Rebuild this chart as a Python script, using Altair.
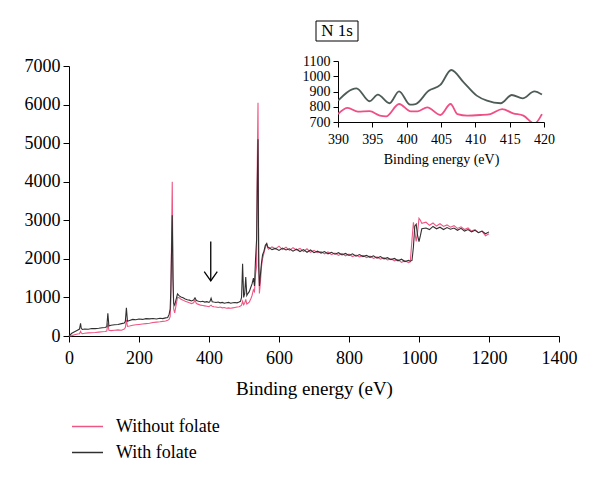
import altair as alt
import pandas as pd

# ---------------- main survey spectrum ----------------
energy = [
    0, 8, 16, 24, 30, 33, 35, 38, 45, 55, 65, 75, 85, 95, 103, 108, 111, 114, 120, 130,
    140, 150, 158, 161, 164, 167, 173, 182, 191, 200, 210, 220, 230, 240, 250, 260, 268, 276, 282,
    286, 289, 291, 293, 295, 297, 299, 302, 306, 310,
    315, 320, 326, 332, 338, 344, 350, 356, 360, 364, 370, 376, 382, 388, 394, 400, 403, 406, 409,
    414, 420, 426, 432, 438, 444, 450, 456, 462, 468, 474, 480, 486,
    490, 493, 496, 499, 502, 505, 508, 511, 515, 519, 523, 527, 530, 533, 536, 538, 540, 542, 544,
    547, 550, 553, 557, 561, 565, 568,
    570, 580, 590, 600, 610, 620, 630, 640, 650, 660, 670, 680, 690, 700, 710, 720, 730, 740,
    750, 760, 770, 780, 790, 800, 810, 820, 830, 840, 850, 860, 870, 880, 890, 900, 910, 920,
    930, 940, 950, 960, 970,
    975, 980, 984, 988, 992, 996, 1000, 1004, 1008,
    1020, 1030, 1040, 1050, 1060, 1070, 1080, 1090, 1100, 1110, 1120, 1130, 1140, 1150, 1160,
    1170, 1180, 1190, 1200,
]
with_folate = [
    0, 70, 110, 150, 180, 330, 200, 170, 180, 175, 195, 190, 200, 215, 220, 240, 590, 260, 280, 290,
    300, 320, 335, 380, 730, 380, 400, 430, 420, 440, 430, 450, 445, 455, 440, 460, 450, 470, 480,
    560, 700, 1200, 2200, 3130, 1500, 850, 800, 950, 1090,
    1040, 1010, 990, 960, 940, 930, 910, 930, 990, 920, 900, 890, 900, 880, 890, 870, 900, 980, 890,
    880, 870, 880, 860, 870, 850, 860, 870, 850, 860, 870, 860, 880,
    900, 1000, 1870, 1000, 1100, 1530, 1050, 1100, 1150, 1250, 1350, 1500, 1300, 2000, 2500, 4000, 5100, 1800, 1300,
    1600, 1900, 2100, 2200, 2350, 2400, 2300,
    2300, 2240, 2270, 2220, 2280, 2230, 2260, 2200, 2250, 2190, 2240, 2170, 2230, 2160, 2200, 2150, 2190, 2130,
    2170, 2120, 2160, 2100, 2140, 2090, 2130, 2070, 2110, 2060, 2090, 2040, 2080, 2020, 2060, 2000, 2030, 1980,
    2010, 1950, 1990, 1930, 1960,
    1940, 1960, 2300, 2850, 2900, 2600, 2450, 2600, 2780,
    2800, 2760, 2840, 2780, 2820, 2760, 2810, 2770, 2800, 2740, 2790, 2720, 2760, 2700, 2740,
    2680, 2720, 2650, 2700,
]
without_folate = [
    0, 10, 30, 50, 60, 120, 80, 60, 70, 80, 85, 90, 100, 110, 115, 130, 330, 150, 140, 150,
    160, 150, 180, 220, 420, 250, 260, 280, 290, 300, 310, 320, 330, 350, 360, 370, 380, 390, 410,
    430, 500, 900, 2500, 4000, 1800, 700, 600, 800, 1000,
    990, 950, 930, 900, 880, 860, 840, 860, 930, 840, 820, 800, 790, 780, 770, 760, 780, 800, 770,
    760, 750, 740, 750, 730, 740, 720, 730, 720, 730, 740, 750, 760,
    780, 800, 900, 810, 850, 950, 830, 850, 880, 950, 1050, 1200, 1150, 1600, 1800, 4500, 6050, 2200, 1100,
    1400, 1800, 2000, 2150, 2300, 2380, 2280,
    2250, 2310, 2260, 2330, 2240, 2300, 2220, 2290, 2230, 2270, 2190, 2260, 2170, 2220, 2160, 2190, 2130, 2180,
    2110, 2150, 2090, 2140, 2080, 2120, 2060, 2100, 2050, 2090, 2030, 2070, 2010, 2050, 1990, 2030, 1970, 2000,
    1950, 1980, 1910, 1950, 1900,
    1920, 2500, 2950, 2700, 2450, 2700, 3050, 3000, 2920,
    2950, 2870, 2930, 2850, 2910, 2840, 2880, 2820, 2860, 2790, 2830, 2760, 2800, 2720, 2760,
    2680, 2720, 2600, 2650,
]
series_names = ["Without folate", "With folate"]

x_ticks = [0, 200, 400, 600, 800, 1000, 1200, 1400]
y_ticks = [0, 1000, 2000, 3000, 4000, 5000, 6000, 7000]

# arrow annotation (data units)
arrow_x = [405]
arrow_top = [2450]
arrow_tip = [1430]

# ---------------- N 1s inset ----------------
inset_dark_e = [390, 392.7, 394.6, 395.8, 397.5, 398.9, 400.5, 401.3, 403.2, 404.9, 406.5,
                408.3, 410.2, 411.7, 413.7, 415.3, 416.9, 418.6, 419.7]
inset_dark_v = [840, 921, 836, 879, 823, 901, 814, 818, 905, 943, 1041,
                960, 873, 840, 823, 877, 855, 901, 880]
inset_pink_e = [390, 391.4, 392.9, 394.6, 396.1, 397.0, 398.9, 400.6, 401.6, 403.0, 404.9,
                406.4, 407.4, 408.8, 410.7, 412.2, 413.9, 415.5, 417.0, 418.6, 419.7]
inset_pink_v = [752, 792, 768, 771, 742, 737, 818, 770, 770, 796, 746,
                818, 752, 742, 746, 752, 785, 757, 742, 690, 752]
inset_x_ticks = [390, 395, 400, 405, 410, 415, 420]
inset_y_ticks = [700, 800, 900, 1000, 1100]
inset_label = ["N 1s"]

FONT = "Liberation Serif"
PINK = "#ee5683"
DARK = "#303030"
INSET_DARK = "#4e5c58"
INSET_PINK = "#ef4f84"

df = pd.DataFrame({
    "energy": energy * 2,
    "counts": without_folate + with_folate,
    "series": [series_names[0]] * len(energy) + [series_names[1]] * len(energy),
})

color_scale = alt.Scale(domain=series_names, range=[PINK, DARK])
x_scale = alt.Scale(domain=[0, 1400], nice=False)
y_scale = alt.Scale(domain=[0, 7000], nice=False)
x_axis = alt.Axis(values=x_ticks, format="d", labelOverlap=False, labelFlush=False,
                  title="Binding energy (eV)", labelFontSize=18, titleFontSize=19, tickSize=6,
                  labelPadding=7, titlePadding=12)
y_axis = alt.Axis(values=y_ticks, format="d", labelOverlap=False, labelFlush=False, title=None,
                  labelFontSize=18, tickSize=6, labelPadding=3)
x_enc = alt.X("energy:Q", scale=x_scale, axis=x_axis)
y_enc = alt.Y("counts:Q", scale=y_scale, axis=y_axis)
legend = alt.Legend(title=None, orient="none", legendX=2, legendY=349, symbolType="stroke",
                    symbolSize=961, symbolStrokeWidth=1.5, labelFont=FONT, labelFontSize=18,
                    labelColor="black", labelOffset=12, rowPadding=-1)
color_enc = alt.Color("series:N", scale=color_scale, legend=legend)

base = alt.Chart(df)
pink_line = base.transform_filter(alt.datum.series == series_names[0]).mark_line(
    strokeWidth=1.1).encode(x=x_enc, y=y_enc, color=color_enc)
dark_line = base.transform_filter(alt.datum.series == series_names[1]).mark_line(
    strokeWidth=1.1).encode(x=x_enc, y=y_enc, color=color_enc)

arrow_df = pd.DataFrame({"energy": arrow_x, "counts": arrow_tip, "top": arrow_top})
arrow_shaft = alt.Chart(arrow_df).mark_rule(color="black", strokeWidth=1.3).encode(
    x=x_enc, y=y_enc, y2="top:Q")
arrow_head = alt.Chart(arrow_df).mark_point(
    shape="M-1,-1.4L0,0L1,-1.4", filled=False, color="black", strokeWidth=1.3, size=170, opacity=1
).encode(x=x_enc, y=y_enc)

main = alt.layer(pink_line, dark_line, arrow_shaft, arrow_head).properties(width=490, height=270)

# inset
inset_df = pd.DataFrame({
    "e": inset_pink_e + inset_dark_e,
    "v": inset_pink_v + inset_dark_v,
    "s": ["pink"] * len(inset_pink_e) + ["dark"] * len(inset_dark_e),
})
ix = alt.X("e:Q", scale=alt.Scale(domain=[390, 420], nice=False),
           axis=alt.Axis(values=inset_x_ticks, format="d", labelOverlap=False, labelFlush=False,
                         title="Binding energy (eV)", labelFontSize=14,
                         titleFontSize=14, tickSize=5, labelPadding=5, titlePadding=6))
iy = alt.Y("v:Q", scale=alt.Scale(domain=[700, 1100], nice=False),
           axis=alt.Axis(values=inset_y_ticks, format="d", labelOverlap=False, labelFlush=False,
                         title=None, labelFontSize=14, tickSize=5, labelPadding=3))
ibase = alt.Chart(inset_df)
inset_dark_line = ibase.transform_filter(alt.datum.s == "dark").mark_line(
    color=INSET_DARK, strokeWidth=1.8, interpolate="monotone", clip=True).encode(x=ix, y=iy)
inset_pink_line = ibase.transform_filter(alt.datum.s == "pink").mark_line(
    color=INSET_PINK, strokeWidth=1.8, interpolate="monotone", clip=True).encode(x=ix, y=iy)

label_df = pd.DataFrame({"label": inset_label})
label_box = alt.Chart(label_df).mark_rect(fillOpacity=0, stroke="black", strokeWidth=1).encode(
    x=alt.value(-22), x2=alt.value(20), y=alt.value(-40), y2=alt.value(-20))
label_text = alt.Chart(label_df).mark_text(font=FONT, fontSize=17, color="black",
                                          baseline="middle", align="center").encode(
    text="label:N", x=alt.value(-1), y=alt.value(-30))

inset = alt.layer(inset_dark_line, inset_pink_line, label_box, label_text).properties(width=206, height=61)

spacer = alt.Chart(pd.DataFrame({"a": [0]})).mark_point(opacity=0).encode(
    x=alt.value(0), y=alt.value(0)).properties(width=269, height=61)

top = alt.hconcat(spacer, inset, spacing=0, bounds="flush")
chart = alt.vconcat(top, main, spacing=5, bounds="flush").properties(
    padding={"left": 16, "top": 12, "right": 5, "bottom": 5}
).configure_view(stroke=None).configure_axis(
    labelFont=FONT, titleFont=FONT, labelColor="black", titleColor="black",
    domainColor="black", tickColor="black", titleFontWeight="normal", grid=False
)

chart.save("out.html", embed_options={"renderer": "svg", "actions": False})
